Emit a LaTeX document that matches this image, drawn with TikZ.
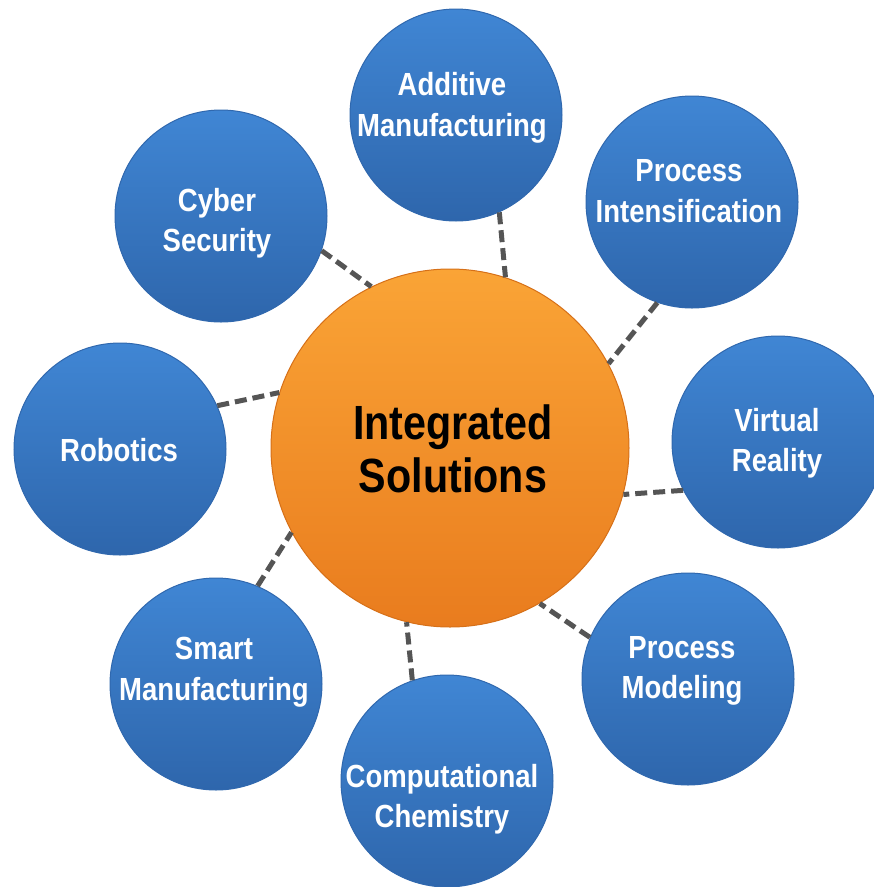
\documentclass[tikz,border=0pt]{standalone}
\usepackage{fontspec}
\setmainfont{Liberation Sans}[FakeStretch=0.86]
\usepackage{tikz}

\definecolor{topictop}{RGB}{64,134,212}
\definecolor{topicbottom}{RGB}{46,102,172}
\definecolor{topicrim}{RGB}{48,104,174}
\definecolor{hubtop}{RGB}{250,164,54}
\definecolor{hubbottom}{RGB}{233,124,30}
\definecolor{hubrim}{RGB}{214,112,24}
\definecolor{linkgray}{RGB}{85,85,85}

\begin{document}
\begin{tikzpicture}[x=1pt, y=-1pt,
    topic/.style={circle, minimum size=212pt, inner sep=0pt,
        top color=topictop, bottom color=topicbottom, draw=topicrim, line width=1pt},
    topictext/.style={text=white, align=center, inner sep=0pt,
        font=\bfseries\fontsize{32}{40.5}\selectfont},
    hub/.style={circle, minimum size=358pt, inner sep=0pt,
        top color=hubtop, bottom color=hubbottom, draw=hubrim, line width=1pt},
    hubtext/.style={text=black, align=center, inner sep=0pt,
        font=\bfseries\fontsize{48}{53}\selectfont},
    link/.style={draw=linkgray, line width=5pt, dash pattern=on 12pt off 6pt}
]
\useasboundingbox (0,0) rectangle (874,887);

% Hub
\node[hub] (ci) at (450,448) {};

% Topics
\node[topic] (am) at (456,115) {};
\node[topic] (pi) at (692,202) {};
\node[topic] (vr) at (778,442) {};
\node[topic] (pm) at (688,679) {};
\node[topic] (cc) at (447,781) {};
\node[topic] (sm) at (216,684) {};
\node[topic] (rb) at (120,449) {};
\node[topic] (cs) at (221,216) {};

% Links
\draw[link] (am.-66) -- (ci.72);
\draw[link] (pi.-109) -- (ci.28);
\draw[link] (vr.-153) -- (ci.-15.5);
\draw[link] (pm.157) -- (ci.-60);
\draw[link] (cc.109) -- (ci.-104.5);
\draw[link] (sm.67.5) -- (ci.-152);
\draw[link] (rb.24) -- (ci.162);
\draw[link] (cs.-19) -- (ci.116);

% Labels
\node[hubtext] (ci-t) at (453,449) {Integrated\\Solutions};
\node[topictext] (am-t) at (452,108) {Additive\\Manufacturing};
\node[topictext] (pi-t) at (689,191) {Process\\Intensification};
\node[topictext] (vr-t) at (777,443) {Virtual\\Reality};
\node[topictext] (pm-t) at (682,671) {Process\\Modeling};
\node[topictext] (cc-t) at (442,799) {Computational\\Chemistry};
\node[topictext] (sm-t) at (214,672) {Smart\\Manufacturing};
\node[topictext] (rb-t) at (119,450) {Robotics};
\node[topictext] (cs-t) at (217,223) {Cyber\\Security};

\end{tikzpicture}
\end{document}
